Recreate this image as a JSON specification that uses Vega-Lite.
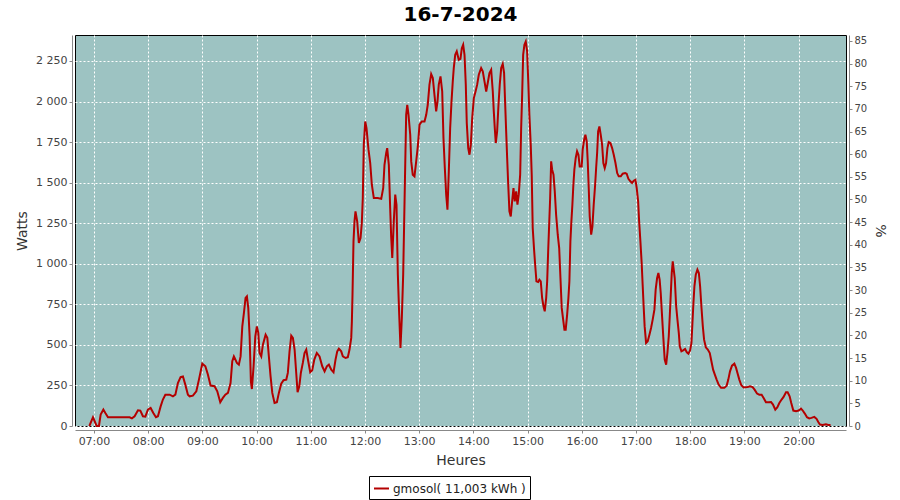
{
  "$schema": "https://vega.github.io/schema/vega-lite/v6.json",
  "autosize": "none",
  "width": 771,
  "height": 391,
  "padding": {"left": 75, "top": 35, "right": 54, "bottom": 74},
  "background": "white",
  "title": {"text": "16-7-2024", "font": "DejaVu Sans", "fontSize": 20, "fontWeight": "bold", "color": "black", "anchor": "middle", "offset": 7},
  "config": {
    "view": {"fill": "#9DC3C2", "stroke": "black", "strokeWidth": 1},
    "axis": {"labelFont": "DejaVu Sans", "labelFontSize": 11, "labelColor": "#444444", "titleFont": "DejaVu Sans", "titleFontSize": 14, "titleFontWeight": "normal", "titleColor": "#333333", "domainColor": "#888888", "tickColor": "#888888", "gridColor": "white", "gridDash": [2, 2], "gridWidth": 1, "gridOpacity": 1}
  },
  "layer": [
    {
      "data": {"values": [
        {"m":414.9,"w":0},{"m":418.9,"w":54},{"m":423.0,"w":0},{"m":425.5,"w":0},{"m":427.4,"w":70},{"m":430.4,"w":101},{"m":432.6,"w":80},{"m":435.5,"w":54},{"m":439.3,"w":54},{"m":459.5,"w":54},{"m":462.0,"w":47},{"m":465.0,"w":60},{"m":468.7,"w":97},{"m":471.3,"w":95},{"m":474.2,"w":60},{"m":476.9,"w":58},{"m":479.7,"w":101},{"m":482.7,"w":111},{"m":485.7,"w":80},{"m":488.6,"w":54},{"m":490.8,"w":60},{"m":493.8,"w":121},{"m":496.3,"w":163},{"m":499.0,"w":193},{"m":503.8,"w":193},{"m":507.4,"w":183},{"m":510.1,"w":193},{"m":512.9,"w":265},{"m":515.9,"w":302},{"m":518.5,"w":306},{"m":521.1,"w":255},{"m":524.0,"w":193},{"m":525.9,"w":183},{"m":529.5,"w":187},{"m":533.3,"w":214},{"m":536.2,"w":286},{"m":539.9,"w":384},{"m":543.3,"w":368},{"m":546.1,"w":317},{"m":549.1,"w":249},{"m":553.5,"w":245},{"m":556.5,"w":214},{"m":559.8,"w":146},{"m":562.7,"w":173},{"m":565.4,"w":193},{"m":568.3,"w":204},{"m":571.2,"w":265},{"m":573.1,"w":399},{"m":574.9,"w":429},{"m":575.7,"w":420},{"m":578.2,"w":389},{"m":580.4,"w":378},{"m":582.3,"w":429},{"m":584.2,"w":614},{"m":586.0,"w":697},{"m":587.8,"w":789},{"m":589.3,"w":799},{"m":590.8,"w":728},{"m":592.3,"w":553},{"m":593.7,"w":275},{"m":594.8,"w":228},{"m":596.7,"w":368},{"m":598.6,"w":553},{"m":600.3,"w":614},{"m":601.9,"w":574},{"m":603.3,"w":450},{"m":605.2,"w":429},{"m":607.0,"w":501},{"m":610.0,"w":563},{"m":611.9,"w":543},{"m":613.6,"w":429},{"m":615.5,"w":306},{"m":617.4,"w":204},{"m":619.9,"w":142},{"m":622.5,"w":146},{"m":624.7,"w":204},{"m":627.3,"w":261},{"m":629.9,"w":282},{"m":632.9,"w":286},{"m":634.6,"w":327},{"m":636.5,"w":460},{"m":638.4,"w":557},{"m":640.2,"w":543},{"m":642.1,"w":471},{"m":643.9,"w":327},{"m":645.4,"w":208},{"m":647.3,"w":245},{"m":649.0,"w":327},{"m":651.2,"w":389},{"m":653.1,"w":450},{"m":655.0,"w":471},{"m":657.2,"w":399},{"m":659.4,"w":331},{"m":661.6,"w":343},{"m":663.9,"w":409},{"m":666.7,"w":450},{"m":669.7,"w":429},{"m":672.7,"w":368},{"m":675.3,"w":337},{"m":677.8,"w":368},{"m":680.0,"w":378},{"m":682.7,"w":347},{"m":685.2,"w":331},{"m":687.4,"w":409},{"m":689.3,"w":460},{"m":691.1,"w":477},{"m":693.7,"w":460},{"m":695.5,"w":429},{"m":698.5,"w":419},{"m":701.0,"w":424},{"m":702.9,"w":471},{"m":704.8,"w":543},{"m":705.5,"w":645},{"m":706.2,"w":810},{"m":707.3,"w":1138},{"m":708.4,"w":1261},{"m":709.5,"w":1323},{"m":711.4,"w":1261},{"m":713.2,"w":1128},{"m":715.1,"w":1159},{"m":716.5,"w":1251},{"m":717.6,"w":1405},{"m":718.7,"w":1734},{"m":720.3,"w":1877},{"m":721.7,"w":1836},{"m":723.9,"w":1703},{"m":725.8,"w":1621},{"m":727.6,"w":1487},{"m":729.8,"w":1405},{"m":734.2,"w":1405},{"m":738.0,"w":1400},{"m":740.2,"w":1467},{"m":741.6,"w":1610},{"m":743.5,"w":1683},{"m":744.6,"w":1713},{"m":746.4,"w":1610},{"m":747.9,"w":1344},{"m":749.0,"w":1169},{"m":750.2,"w":1036},{"m":751.9,"w":1261},{"m":753.5,"w":1426},{"m":754.9,"w":1364},{"m":756.4,"w":933},{"m":757.9,"w":686},{"m":759.3,"w":481},{"m":760.8,"w":666},{"m":762.3,"w":933},{"m":763.4,"w":1261},{"m":764.5,"w":1590},{"m":765.6,"w":1918},{"m":766.8,"w":1980},{"m":768.2,"w":1918},{"m":770.1,"w":1795},{"m":771.2,"w":1631},{"m":772.9,"w":1549},{"m":774.8,"w":1539},{"m":776.7,"w":1631},{"m":778.5,"w":1723},{"m":780.4,"w":1857},{"m":782.9,"w":1877},{"m":785.9,"w":1877},{"m":787.8,"w":1918},{"m":789.5,"w":1980},{"m":791.4,"w":2104},{"m":793.3,"w":2169},{"m":795.1,"w":2145},{"m":796.9,"w":2042},{"m":798.8,"w":1939},{"m":800.3,"w":2001},{"m":801.7,"w":2104},{"m":803.6,"w":2155},{"m":805.5,"w":2062},{"m":806.9,"w":1775},{"m":808.4,"w":1590},{"m":809.9,"w":1426},{"m":811.3,"w":1333},{"m":812.8,"w":1569},{"m":814.3,"w":1836},{"m":815.8,"w":2001},{"m":817.2,"w":2124},{"m":818.3,"w":2206},{"m":819.9,"w":2288},{"m":821.6,"w":2309},{"m":823.8,"w":2257},{"m":825.7,"w":2263},{"m":827.2,"w":2329},{"m":828.7,"w":2350},{"m":830.2,"w":2288},{"m":831.6,"w":2104},{"m":832.7,"w":1867},{"m":834.3,"w":1713},{"m":835.7,"w":1672},{"m":837.2,"w":1734},{"m":838.7,"w":1898},{"m":840.5,"w":2021},{"m":842.4,"w":2062},{"m":844.2,"w":2104},{"m":846.0,"w":2165},{"m":848.6,"w":2206},{"m":850.4,"w":2186},{"m":852.3,"w":2124},{"m":854.2,"w":2062},{"m":855.9,"w":2114},{"m":857.8,"w":2176},{"m":859.7,"w":2196},{"m":861.5,"w":2062},{"m":862.6,"w":1939},{"m":863.7,"w":1836},{"m":864.8,"w":1744},{"m":866.3,"w":1816},{"m":867.8,"w":1980},{"m":869.2,"w":2104},{"m":870.8,"w":2206},{"m":872.5,"w":2231},{"m":874.0,"w":2176},{"m":875.1,"w":2001},{"m":876.3,"w":1816},{"m":877.4,"w":1652},{"m":878.5,"w":1498},{"m":879.9,"w":1323},{"m":881.4,"w":1292},{"m":882.9,"w":1385},{"m":884.4,"w":1467},{"m":885.8,"w":1385},{"m":887.4,"w":1446},{"m":888.8,"w":1364},{"m":890.2,"w":1426},{"m":891.8,"w":1549},{"m":892.9,"w":1836},{"m":894.0,"w":2042},{"m":895.1,"w":2288},{"m":896.5,"w":2350},{"m":898.0,"w":2370},{"m":899.5,"w":2309},{"m":900.9,"w":2104},{"m":902.0,"w":1918},{"m":903.5,"w":1734},{"m":904.6,"w":1549},{"m":905.7,"w":1220},{"m":907.2,"w":1087},{"m":908.4,"w":994},{"m":909.8,"w":892},{"m":911.7,"w":888},{"m":913.1,"w":902},{"m":914.6,"w":892},{"m":916.1,"w":789},{"m":917.6,"w":738},{"m":919.0,"w":707},{"m":920.6,"w":789},{"m":921.7,"w":892},{"m":922.8,"w":1077},{"m":923.9,"w":1241},{"m":925.0,"w":1405},{"m":926.1,"w":1631},{"m":927.2,"w":1580},{"m":928.7,"w":1549},{"m":930.1,"w":1446},{"m":931.6,"w":1302},{"m":933.4,"w":1179},{"m":935.0,"w":1097},{"m":936.4,"w":912},{"m":937.8,"w":728},{"m":939.4,"w":656},{"m":940.8,"w":594},{"m":942.2,"w":594},{"m":943.8,"w":686},{"m":945.2,"w":789},{"m":946.3,"w":892},{"m":947.4,"w":1138},{"m":948.5,"w":1261},{"m":949.6,"w":1364},{"m":950.7,"w":1487},{"m":951.8,"w":1580},{"m":953.3,"w":1652},{"m":954.8,"w":1693},{"m":956.3,"w":1672},{"m":957.7,"w":1600},{"m":959.9,"w":1600},{"m":961.0,"w":1703},{"m":962.6,"w":1764},{"m":964.0,"w":1795},{"m":965.5,"w":1754},{"m":966.6,"w":1631},{"m":967.7,"w":1467},{"m":968.8,"w":1292},{"m":970.4,"w":1179},{"m":971.8,"w":1230},{"m":973.2,"w":1364},{"m":974.8,"w":1487},{"m":975.9,"w":1590},{"m":977.0,"w":1683},{"m":978.1,"w":1816},{"m":979.5,"w":1846},{"m":981.0,"w":1795},{"m":982.5,"w":1734},{"m":983.9,"w":1621},{"m":985.4,"w":1590},{"m":986.9,"w":1621},{"m":988.4,"w":1713},{"m":989.8,"w":1750},{"m":991.7,"w":1744},{"m":993.6,"w":1713},{"m":995.4,"w":1672},{"m":997.3,"w":1621},{"m":999.2,"w":1559},{"m":1000.9,"w":1539},{"m":1003.2,"w":1539},{"m":1005.3,"w":1555},{"m":1008.0,"w":1559},{"m":1009.7,"w":1555},{"m":1011.6,"w":1524},{"m":1013.8,"w":1508},{"m":1015.7,"w":1498},{"m":1017.5,"w":1512},{"m":1019.4,"w":1518},{"m":1020.8,"w":1467},{"m":1022.4,"w":1385},{"m":1023.5,"w":1261},{"m":1024.9,"w":1138},{"m":1026.3,"w":1005},{"m":1027.4,"w":871},{"m":1028.5,"w":738},{"m":1029.6,"w":614},{"m":1031.2,"w":512},{"m":1033.0,"w":522},{"m":1034.9,"w":563},{"m":1036.7,"w":604},{"m":1038.5,"w":656},{"m":1040.4,"w":717},{"m":1041.8,"w":840},{"m":1043.4,"w":912},{"m":1044.8,"w":943},{"m":1046.2,"w":902},{"m":1047.4,"w":820},{"m":1048.9,"w":676},{"m":1050.3,"w":543},{"m":1051.8,"w":409},{"m":1053.4,"w":378},{"m":1054.8,"w":450},{"m":1056.3,"w":553},{"m":1057.4,"w":676},{"m":1058.5,"w":810},{"m":1059.6,"w":943},{"m":1060.7,"w":1015},{"m":1061.8,"w":964},{"m":1062.9,"w":912},{"m":1064.5,"w":738},{"m":1065.9,"w":656},{"m":1067.4,"w":574},{"m":1068.5,"w":491},{"m":1070.3,"w":460},{"m":1072.2,"w":466},{"m":1074.4,"w":475},{"m":1076.3,"w":454},{"m":1078.0,"w":446},{"m":1079.9,"w":466},{"m":1081.4,"w":512},{"m":1082.5,"w":635},{"m":1083.6,"w":758},{"m":1084.7,"w":861},{"m":1086.2,"w":933},{"m":1088.0,"w":964},{"m":1089.6,"w":943},{"m":1091.0,"w":861},{"m":1092.4,"w":738},{"m":1094.0,"w":614},{"m":1095.4,"w":532},{"m":1097.3,"w":485},{"m":1099.5,"w":471},{"m":1101.7,"w":450},{"m":1103.5,"w":399},{"m":1105.4,"w":347},{"m":1107.3,"w":317},{"m":1109.3,"w":286},{"m":1111.5,"w":255},{"m":1114.2,"w":235},{"m":1117.8,"w":235},{"m":1120.4,"w":249},{"m":1122.2,"w":286},{"m":1124.1,"w":337},{"m":1126.3,"w":372},{"m":1128.9,"w":384},{"m":1130.8,"w":358},{"m":1132.5,"w":323},{"m":1134.4,"w":286},{"m":1136.6,"w":251},{"m":1139.2,"w":238},{"m":1143.6,"w":240},{"m":1146.2,"w":245},{"m":1149.1,"w":240},{"m":1151.3,"w":224},{"m":1154.0,"w":200},{"m":1156.5,"w":193},{"m":1159.1,"w":193},{"m":1161.3,"w":173},{"m":1163.9,"w":146},{"m":1166.8,"w":146},{"m":1169.5,"w":148},{"m":1171.7,"w":132},{"m":1174.2,"w":101},{"m":1176.4,"w":115},{"m":1178.7,"w":142},{"m":1181.2,"w":163},{"m":1183.4,"w":179},{"m":1186.1,"w":208},{"m":1187.9,"w":208},{"m":1190.1,"w":183},{"m":1191.9,"w":142},{"m":1194.2,"w":95},{"m":1197.2,"w":91},{"m":1200.0,"w":95},{"m":1202.7,"w":107},{"m":1204.4,"w":97},{"m":1207.1,"w":75},{"m":1209.3,"w":54},{"m":1211.8,"w":47},{"m":1214.3,"w":50},{"m":1217.4,"w":56},{"m":1219.9,"w":44},{"m":1221.8,"w":25},{"m":1223.7,"w":9},{"m":1226.6,"w":6},{"m":1230.3,"w":10},{"m":1232.9,"w":6},{"m":1235.4,"w":6}
      ]},
      "mark": {"type": "line", "strokeWidth": 2, "interpolate": "linear"},
      "encoding": {
        "x": {"field": "m", "type": "quantitative", "scale": {"domain": [399, 1252.5], "nice": false, "zero": false},
          "axis": {"title": "Heures", "values": [420,480,540,600,660,720,780,840,900,960,1020,1080,1140,1200], "labelExpr": "(datum.value < 600 ? '0' : '') + (datum.value / 60) + ':00'", "offset": 4, "tickSize": 3, "labelPadding": 2, "titlePadding": 7, "grid": true, "labelFlush": false}},
        "y": {"field": "w", "type": "quantitative", "scale": {"domain": [0, 2410], "nice": false},
          "axis": {"title": "Watts", "values": [0,250,500,750,1000,1250,1500,1750,2000,2250], "labelExpr": "replace(format(datum.value, ','), ',', ' ')", "offset": 3, "tickSize": 3, "labelPadding": 2, "titlePadding": 6, "grid": true}},
        "color": {"datum": "gmosol( 11,003 kWh )", "type": "nominal", "scale": {"range": ["#B40000"]},
          "legend": {"title": null, "orient": "none", "legendX": 294, "legendY": 441, "direction": "horizontal", "symbolType": "stroke", "symbolStrokeWidth": 2, "symbolSize": 225, "labelFont": "DejaVu Sans", "labelFontSize": 12, "labelColor": "#222222", "strokeColor": "black", "fillColor": "white", "padding": 4, "labelOffset": 3}}
      }
    },
    {
      "data": {"values": [{"pct": 0}, {"pct": 86.3}]},
      "mark": {"type": "point", "opacity": 0},
      "encoding": {
        "y": {"field": "pct", "type": "quantitative", "scale": {"domain": [0, 86.3], "nice": false},
          "axis": {"title": "%", "orient": "right", "values": [0,5,10,15,20,25,30,35,40,45,50,55,60,65,70,75,80,85], "offset": 3, "tickSize": 3, "labelPadding": 2, "titlePadding": 6, "grid": false, "labelFontSize": 10}}
      }
    }
  ],
  "resolve": {"scale": {"y": "independent"}}
}
